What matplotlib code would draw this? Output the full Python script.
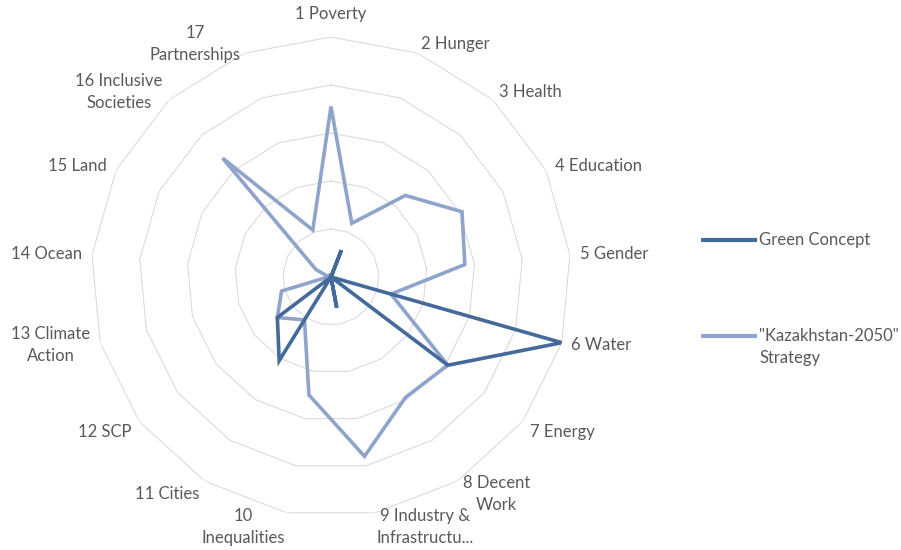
import numpy as np
import matplotlib
matplotlib.use("Agg")
from matplotlib import pyplot as plt
from matplotlib.lines import Line2D

plt.rcParams['font.family'] = ['Lato', 'DejaVu Sans']

goals = ['1 Poverty', '2 Hunger', '3 Health', '4 Education', '5 Gender',
         '6 Water', '7 Energy', '8 Decent\nWork', '9 Industry &\nInfrastructu...',
         '10\nInequalities', '11 Cities', '12 SCP', '13 Climate\nAction',
         '14 Ocean', '15 Land', '16 Inclusive\nSocieties', '17\nPartnerships']

green_concept = [0, 0.6, 0, 0, 0, 5.0, 3.05, 0, 0.65, 0, 2.05, 1.4, 0, 0, 0, 0, 0]
kz_2050 = [3.55, 1.2, 2.3, 3.05, 2.8, 1.3, 3.05, 2.95, 3.8, 2.5, 1.05, 1.4,
           1.07, 0.05, 0.35, 3.35, 1.05]

series_names = ['Green Concept', '"Kazakhstan-2050"\nStrategy']
colors = ['#44699b', '#8ea4cb']
grid_color = '#d9d9d9'
text_color = '#595959'
fs = 12
rmax = 5

n = len(goals)
theta = np.arange(n) * 2 * np.pi / n
theta_c = np.append(theta, theta[0])

fig = plt.figure(figsize=(9.01, 5.5), dpi=100)
ax = fig.add_axes([0.101, 0.06, 0.5327, 0.8727], projection='polar')
ax.set_theta_zero_location('N')
ax.set_theta_direction(-1)
ax.set_ylim(0, rmax)
ax.grid(False)
ax.set_xticks([])
ax.set_yticks([])
ax.spines['polar'].set_visible(False)

# polygon gridlines
for r in range(1, rmax + 1):
    ax.plot(theta_c, [r] * (n + 1), color=grid_color, lw=0.75, zorder=1)

# series, light one underneath
for vals, col, z in [(kz_2050, colors[1], 2), (green_concept, colors[0], 3)]:
    v = np.append(vals, vals[0])
    ax.plot(theta_c, v, color=col, lw=2.6, solid_joinstyle='miter',
            solid_capstyle='butt', zorder=z)

# category labels outside the outer ring
d = 7.2
for t, lab in zip(theta, goals):
    s, c = np.sin(t), np.cos(t)
    if abs(s) < 0.1:
        ha = 'center'
        va = 'bottom' if c > 0 else 'top'
        off = (0, 11) if c > 0 else (0, -8)
    else:
        ha = 'left' if s > 0 else 'right'
        va = 'center'
        dy = d * c - (3 if c < -0.3 else 0)
        off = (d * s, dy)
    ax.annotate(lab, xy=(t, rmax), xytext=off, textcoords='offset points',
                ha=ha, va=va, multialignment='center', fontsize=fs,
                linespacing=1.45, color=text_color, annotation_clip=False)

# legend
leg_y = [1 - 240 / 550, 1 - 336 / 550]
for y, name, col in zip(leg_y, series_names, colors):
    fig.add_artist(Line2D([701 / 901, 757 / 901], [y, y], color=col, lw=3,
                          solid_capstyle='butt', transform=fig.transFigure))
    fig.text(759 / 901, y + 0.0145, name, ha='left', va='top', fontsize=fs,
             color=text_color, linespacing=1.45)

plt.savefig('out.png', dpi=100)
